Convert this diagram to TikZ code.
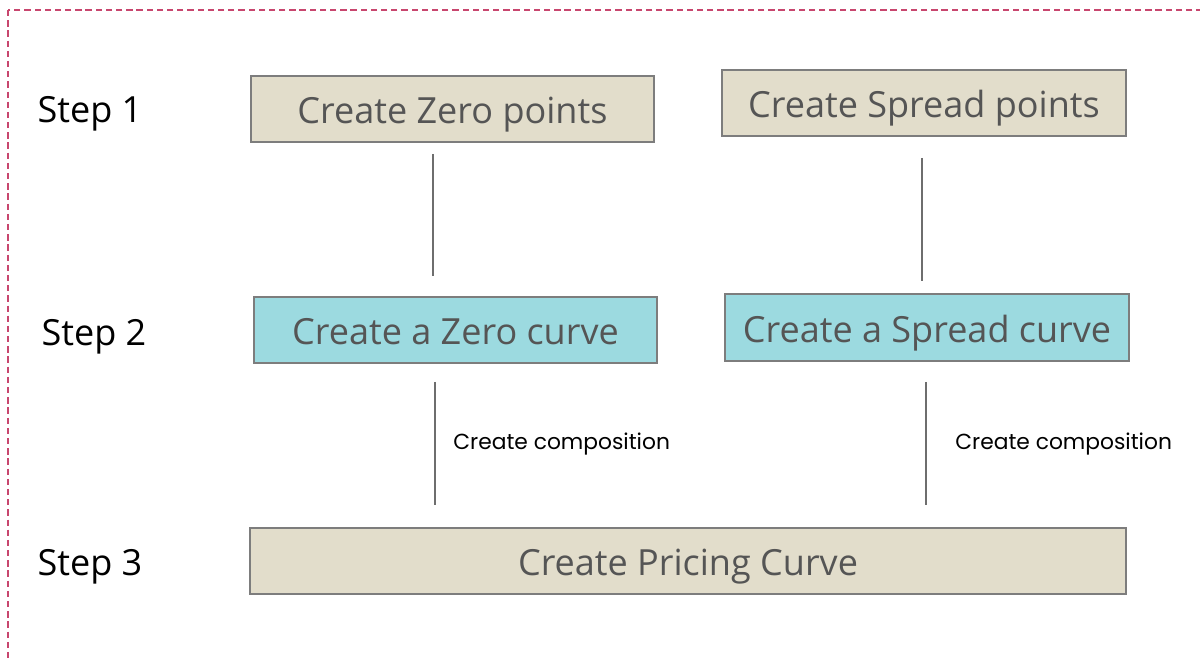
\documentclass[tikz,border=0pt]{standalone}
\usepackage{fontspec}
\setmainfont{Open Sans}
\newfontfamily\notefont{Poppins}
\usetikzlibrary{calc}
\definecolor{beige}{RGB}{226,221,203}
\definecolor{cyanbox}{RGB}{156,218,224}
\definecolor{boxline}{RGB}{125,125,125}
\definecolor{boxtext}{RGB}{85,85,85}
\definecolor{frame}{RGB}{200,70,110}
\definecolor{link}{RGB}{110,110,110}
\tikzset{
  stepbox/.style={draw=boxline, line width=1.1pt, minimum height=66*0.02cm,
    text=boxtext, font=\fontsize{20.5}{24}\selectfont, inner sep=0pt,
    text height=21pt, text depth=4pt},
  pointbox/.style={stepbox, fill=beige},
  curvebox/.style={stepbox, fill=cyanbox},
  steplabel/.style={font=\fontsize{20.5}{24}\selectfont, text=black},
  link/.style={draw=link, line width=1.1pt},
  linklabel/.style={font=\notefont\fontsize{12.4}{15}\selectfont, text=black, anchor=west, inner sep=0pt}
}
\begin{document}
\begin{tikzpicture}[x=0.02cm, y=-0.02cm]
  \useasboundingbox (0,0) rectangle (1200,662);
  \begin{scope}
    \clip (0,0) rectangle (1200,662);
    \draw[frame, line width=0.9pt, dash pattern=on 3.6pt off 2.2pt] (8,10) rectangle (1240,700);
  \end{scope}

  % step labels
  \node[steplabel] (s1) at (90,114) {Step 1};
  \node[steplabel] (s2) at (94,337) {Step 2};
  \node[steplabel] (s3) at (90,567) {Step 3};

  % boxes
  \node[pointbox, minimum width=403*0.02cm] (zp) at (452.5,109) {Create Zero points};
  \node[pointbox, minimum width=404*0.02cm] (sp) at (924,103) {Create Spread points};
  \node[curvebox, minimum width=403*0.02cm] (zc) at (455.5,330) {Create a Zero curve};
  \node[curvebox, minimum width=404*0.02cm, minimum height=67*0.02cm] (sc) at (927,327.5) {Create a Spread curve};
  \node[pointbox, minimum width=876*0.02cm] (pc) at (688,561) {Create Pricing Curve};

  % connectors
  \draw[link] ($(zp.south)+(-19.5,11)$) -- ($(zc.north)+(-22.5,-20)$);
  \draw[link] ($(sp.south)+(-2,21)$) -- ($(sc.north)+(-5,-12)$);
  \draw[link] ($(zc.south)+(-20.5,18)$) coordinate (za) -- ($(pc.north)+(-253,-22)$) coordinate (zb);
  \draw[link] ($(sc.south)+(-1,20)$) coordinate (sa) -- ($(pc.north)+(238,-22)$) coordinate (sb);

  \node[linklabel] (zl) at ($(za)!0.5!(zb)+(18,1)$) {Create composition};
  \node[linklabel] (sl) at ($(sa)!0.5!(sb)+(29,1)$) {Create composition};
\end{tikzpicture}
\end{document}
